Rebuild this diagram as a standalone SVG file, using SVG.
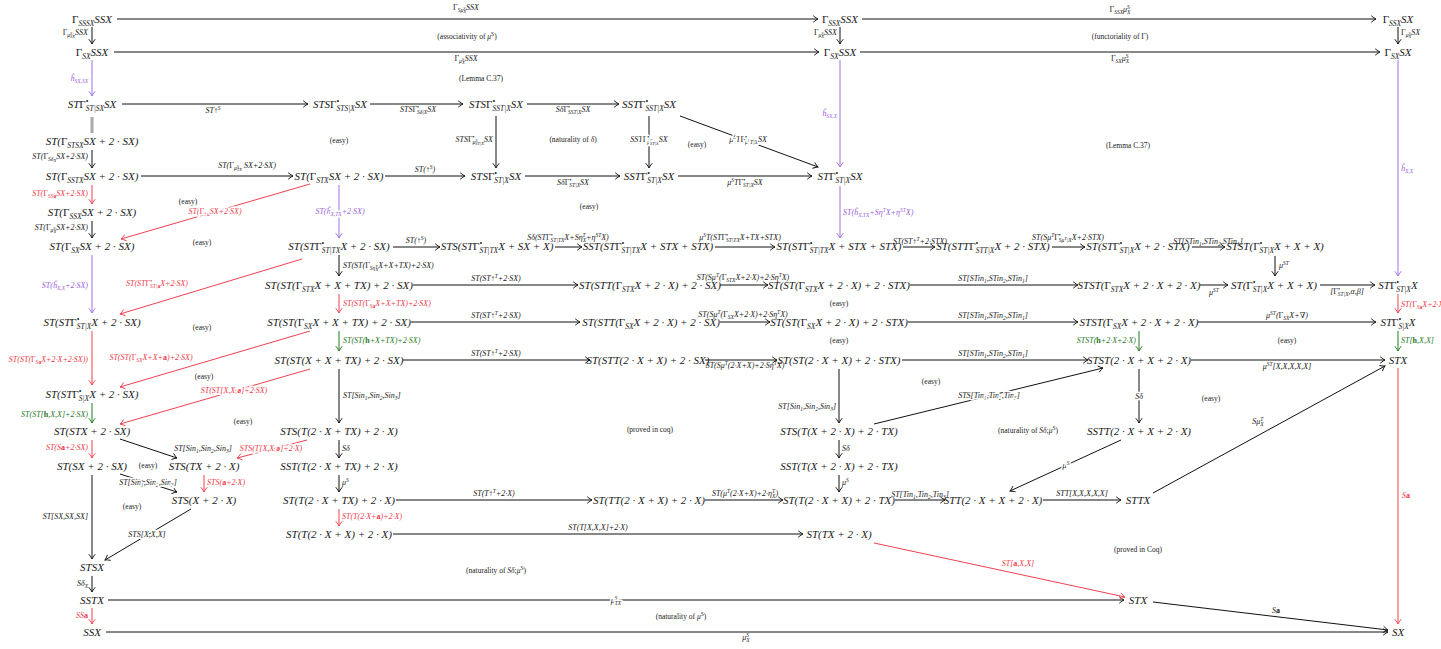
<svg xmlns="http://www.w3.org/2000/svg" width="1441" height="649" viewBox="0 0 1441 649">
<defs>
<style>
text{font-family:"Liberation Serif","DejaVu Serif",serif;font-style:italic;fill:#1a1a1a}
.n{font-size:11px;text-anchor:middle}
.l{font-size:8px}
.m{text-anchor:middle}
.e{text-anchor:end}
.c{font-size:7.5px;font-style:normal;text-anchor:middle}
.i{font-style:italic}
.u{font-style:normal}
.k{font-style:normal;font-weight:bold}
.B{font-size:7.5px;baseline-shift:-2.5px}
.P{font-size:7.5px;baseline-shift:4px}
.b{font-size:5.5px;baseline-shift:-1.8px}
.p{font-size:5.5px;baseline-shift:3px}
.bb{font-size:4.5px;baseline-shift:-1.3px}
.bp{font-size:4.5px;baseline-shift:2px}
.h{stroke:#fff;stroke-width:3px;paint-order:stroke;stroke-linejoin:round}
.rt{fill:#ee3a4a}.pt{fill:#9a62dd}.gt{fill:#1f7a1f}
.a{stroke:#111;stroke-width:1;fill:none}
.ar{stroke:#f0414f}.ap{stroke:#a070e4}.ag{stroke:#1f7a1f}
</style>
<marker id="mk" viewBox="-6 -4 7 8" refX="0" refY="0" markerWidth="7" markerHeight="8" markerUnits="userSpaceOnUse" orient="auto"><path d="M-4.5,-3 Q-1.5,-0.6 0,0 Q-1.5,0.6 -4.5,3" fill="none" stroke="#111" stroke-width="0.9" stroke-linecap="round"/></marker>
<marker id="mr" viewBox="-6 -4 7 8" refX="0" refY="0" markerWidth="7" markerHeight="8" markerUnits="userSpaceOnUse" orient="auto"><path d="M-4.5,-3 Q-1.5,-0.6 0,0 Q-1.5,0.6 -4.5,3" fill="none" stroke="#f0414f" stroke-width="0.9" stroke-linecap="round"/></marker>
<marker id="mp" viewBox="-6 -4 7 8" refX="0" refY="0" markerWidth="7" markerHeight="8" markerUnits="userSpaceOnUse" orient="auto"><path d="M-4.5,-3 Q-1.5,-0.6 0,0 Q-1.5,0.6 -4.5,3" fill="none" stroke="#a070e4" stroke-width="0.9" stroke-linecap="round"/></marker>
<marker id="mg" viewBox="-6 -4 7 8" refX="0" refY="0" markerWidth="7" markerHeight="8" markerUnits="userSpaceOnUse" orient="auto"><path d="M-4.5,-3 Q-1.5,-0.6 0,0 Q-1.5,0.6 -4.5,3" fill="none" stroke="#1f7a1f" stroke-width="0.9" stroke-linecap="round"/></marker>
</defs>
<rect width="1441" height="649" fill="#fff"/>

<g id="connectors">
<line class="a" x1="117" y1="19" x2="818" y2="19" marker-end="url(#mk)"/>
<line class="a" x1="862" y1="19" x2="1376" y2="19" marker-end="url(#mk)"/>
<line class="a" x1="92" y1="27" x2="92" y2="44" marker-end="url(#mk)"/>
<line class="a" x1="840" y1="27" x2="840" y2="44" marker-end="url(#mk)"/>
<line class="a" x1="1398" y1="27" x2="1398" y2="44" marker-end="url(#mk)"/>
<line class="a" x1="114" y1="52" x2="819" y2="52" marker-end="url(#mk)"/>
<line class="a" x1="860" y1="52" x2="1380" y2="52" marker-end="url(#mk)"/>
<line class="a ap" x1="92" y1="60" x2="92" y2="96" marker-end="url(#mp)"/>
<line class="a ap" x1="840" y1="60" x2="840" y2="167" marker-end="url(#mp)"/>
<line class="a ap" x1="1398" y1="60" x2="1398" y2="276" marker-end="url(#mp)"/>
<line class="a" x1="122" y1="104" x2="308" y2="104" marker-end="url(#mk)"/>
<line class="a" x1="370" y1="104" x2="463" y2="104" marker-end="url(#mk)"/>
<line class="a" x1="527" y1="104" x2="619" y2="104" marker-end="url(#mk)"/>
<line class="a" x1="680" y1="116" x2="818" y2="167" marker-end="url(#mk)"/>
<line class="a" x1="496" y1="116" x2="496" y2="168" marker-end="url(#mk)"/>
<line class="a" x1="649" y1="116" x2="649" y2="168" marker-end="url(#mk)"/>
<rect x="90.5" y="117" width="3" height="16" fill="#aaa"/>
<line class="a" x1="92" y1="150" x2="92" y2="168" marker-end="url(#mk)"/>
<line class="a" x1="141" y1="176" x2="293" y2="176" marker-end="url(#mk)"/>
<line class="a" x1="385" y1="176" x2="465" y2="176" marker-end="url(#mk)"/>
<line class="a" x1="525" y1="176" x2="620" y2="176" marker-end="url(#mk)"/>
<line class="a" x1="678" y1="176" x2="812" y2="176" marker-end="url(#mk)"/>
<line class="a ar" x1="92" y1="185" x2="92" y2="204" marker-end="url(#mr)"/>
<line class="a ar" x1="310" y1="184" x2="121" y2="239" marker-end="url(#mr)"/>
<line class="a" x1="92" y1="221" x2="92" y2="238" marker-end="url(#mk)"/>
<line class="a ap" x1="339" y1="185" x2="339" y2="238" marker-end="url(#mp)"/>
<line class="a ap" x1="840" y1="186" x2="840" y2="238" marker-end="url(#mp)"/>
<line class="a ap" x1="92" y1="255" x2="92" y2="313" marker-end="url(#mp)"/>
<line class="a ar" x1="302" y1="259" x2="120" y2="314" marker-end="url(#mr)"/>
<line class="a ar" x1="92" y1="331" x2="92" y2="385" marker-end="url(#mr)"/>
<line class="a ar" x1="310" y1="331" x2="120" y2="387" marker-end="url(#mr)"/>
<line class="a ar" x1="310" y1="369" x2="120" y2="424" marker-end="url(#mr)"/>
<line class="a ag" x1="92" y1="403" x2="92" y2="423" marker-end="url(#mg)"/>
<line class="a" x1="393" y1="247" x2="440" y2="247" marker-end="url(#mk)"/>
<line class="a" x1="555" y1="247" x2="582" y2="247" marker-end="url(#mk)"/>
<line class="a" x1="715" y1="247" x2="775" y2="247" marker-end="url(#mk)"/>
<line class="a" x1="903" y1="247" x2="935" y2="247" marker-end="url(#mk)"/>
<line class="a" x1="1052" y1="247" x2="1085" y2="247" marker-end="url(#mk)"/>
<line class="a" x1="1192" y1="247" x2="1225" y2="247" marker-end="url(#mk)"/>
<line class="a" x1="1275" y1="256" x2="1275" y2="276" marker-end="url(#mk)"/>
<line class="a" x1="413" y1="285" x2="578" y2="285" marker-end="url(#mk)"/>
<line class="a" x1="720" y1="285" x2="768" y2="285" marker-end="url(#mk)"/>
<line class="a" x1="910" y1="285" x2="1078" y2="285" marker-end="url(#mk)"/>
<line class="a" x1="1200" y1="285" x2="1228" y2="285" marker-end="url(#mk)"/>
<line class="a" x1="1320" y1="285" x2="1375" y2="285" marker-end="url(#mk)"/>
<line class="a" x1="339" y1="255" x2="339" y2="276" marker-end="url(#mk)"/>
<line class="a ar" x1="339" y1="294" x2="339" y2="313" marker-end="url(#mr)"/>
<line class="a ag" x1="339" y1="331" x2="339" y2="351" marker-end="url(#mg)"/>
<line class="a" x1="411" y1="322" x2="580" y2="322" marker-end="url(#mk)"/>
<line class="a" x1="720" y1="322" x2="770" y2="322" marker-end="url(#mk)"/>
<line class="a" x1="908" y1="322" x2="1078" y2="322" marker-end="url(#mk)"/>
<line class="a" x1="1198" y1="322" x2="1376" y2="322" marker-end="url(#mk)"/>
<line class="a ar" x1="1398" y1="294" x2="1398" y2="313" marker-end="url(#mr)"/>
<line class="a ag" x1="1139" y1="331" x2="1139" y2="351" marker-end="url(#mg)"/>
<line class="a ag" x1="1398" y1="331" x2="1398" y2="351" marker-end="url(#mg)"/>
<line class="a" x1="403" y1="360" x2="590" y2="360" marker-end="url(#mk)"/>
<line class="a" x1="705" y1="360" x2="777" y2="360" marker-end="url(#mk)"/>
<line class="a" x1="902" y1="360" x2="1088" y2="360" marker-end="url(#mk)"/>
<line class="a" x1="1191" y1="360" x2="1385" y2="360" marker-end="url(#mk)"/>
<line class="a ar" x1="1398" y1="368" x2="1398" y2="624" marker-end="url(#mr)"/>
<line class="a" x1="339" y1="369" x2="339" y2="423" marker-end="url(#mk)"/>
<line class="a" x1="839" y1="369" x2="839" y2="423" marker-end="url(#mk)"/>
<line class="a" x1="874" y1="424" x2="1103" y2="368" marker-end="url(#mk)"/>
<line class="a" x1="1139" y1="369" x2="1139" y2="423" marker-end="url(#mk)"/>
<line class="a ar" x1="92" y1="440" x2="92" y2="458" marker-end="url(#mr)"/>
<line class="a" x1="120" y1="439" x2="177" y2="458" marker-end="url(#mk)"/>
<line class="a ar" x1="307" y1="440" x2="237" y2="458" marker-end="url(#mr)"/>
<line class="a ar" x1="204" y1="475" x2="204" y2="492" marker-end="url(#mr)"/>
<line class="a" x1="120" y1="474" x2="177" y2="492" marker-end="url(#mk)"/>
<line class="a" x1="92" y1="475" x2="92" y2="559" marker-end="url(#mk)"/>
<line class="a" x1="191" y1="509" x2="105" y2="560" marker-end="url(#mk)"/>
<line class="a" x1="92" y1="576" x2="92" y2="592" marker-end="url(#mk)"/>
<line class="a ar" x1="92" y1="608" x2="92" y2="624" marker-end="url(#mr)"/>
<line class="a" x1="108" y1="600" x2="1124" y2="600" marker-end="url(#mk)"/>
<line class="a" x1="106" y1="632" x2="1388" y2="632" marker-end="url(#mk)"/>
<line class="a" x1="1153" y1="602" x2="1388" y2="630" marker-end="url(#mk)"/>
<line class="a ar" x1="874" y1="543" x2="1125" y2="597" marker-end="url(#mr)"/>
<line class="a" x1="339" y1="440" x2="339" y2="458" marker-end="url(#mk)"/>
<line class="a" x1="339" y1="475" x2="339" y2="492" marker-end="url(#mk)"/>
<line class="a ar" x1="339" y1="509" x2="339" y2="526" marker-end="url(#mr)"/>
<line class="a" x1="396" y1="500" x2="592" y2="500" marker-end="url(#mk)"/>
<line class="a" x1="705" y1="500" x2="783" y2="500" marker-end="url(#mk)"/>
<line class="a" x1="895" y1="500" x2="945" y2="500" marker-end="url(#mk)"/>
<line class="a" x1="1043" y1="500" x2="1121" y2="500" marker-end="url(#mk)"/>
<line class="a" x1="1153" y1="493" x2="1385" y2="366" marker-end="url(#mk)"/>
<line class="a" x1="1121" y1="440" x2="1010" y2="491" marker-end="url(#mk)"/>
<line class="a" x1="839" y1="440" x2="839" y2="458" marker-end="url(#mk)"/>
<line class="a" x1="839" y1="475" x2="839" y2="492" marker-end="url(#mk)"/>
<line class="a" x1="393" y1="534" x2="803" y2="534" marker-end="url(#mk)"/>
</g>

<g id="edge-labels">
<text class="l m" x="466" y="10"><tspan class="u">Γ</tspan><tspan class="b">Sμ<tspan class="bp">S</tspan><tspan class="bb" dx="-2.2">X</tspan></tspan>SSX</text>
<text class="l m" x="1120" y="12"><tspan class="u">Γ</tspan><tspan class="b">SSX</tspan>μ<tspan class="p">S</tspan><tspan class="b" dx="-2.8">X</tspan></text>
<text class="l e" x="88" y="35"><tspan class="u">Γ</tspan><tspan class="b">μ<tspan class="bp">S</tspan><tspan class="bb" dx="-2.2">SX</tspan></tspan>SSX</text>
<text class="l e" x="837" y="35"><tspan class="u">Γ</tspan><tspan class="b">μ<tspan class="bp">S</tspan><tspan class="bb" dx="-2.2">X</tspan></tspan>SSX</text>
<text class="l" x="1401" y="35"><tspan class="u">Γ</tspan><tspan class="b">μ<tspan class="bp">S</tspan><tspan class="bb" dx="-2.2">X</tspan></tspan>SX</text>
<text class="l m" x="466" y="61"><tspan class="u">Γ</tspan><tspan class="b">μ<tspan class="bp">S</tspan><tspan class="bb" dx="-2.2">X</tspan></tspan>SSX</text>
<text class="l m" x="1120" y="61"><tspan class="u">Γ</tspan><tspan class="b">SX</tspan>μ<tspan class="p">S</tspan><tspan class="b" dx="-2.8">X</tspan></text>
<text class="l e pt" x="88" y="81">ĥ<tspan class="b">SX,SX</tspan></text>
<text class="l e pt" x="837" y="116">ĥ<tspan class="b">SX,X</tspan></text>
<text class="l pt" x="1401" y="171">ĥ<tspan class="b">X,X</tspan></text>
<text class="l m" x="213" y="113">ST↑<tspan class="p">S</tspan></text>
<text class="l m" x="418" y="112">STS<tspan class="u">Γ</tspan><tspan class="p">•</tspan><tspan class="b" dx="-2">Sδ|X</tspan>SX</text>
<text class="l m" x="573" y="112">Sδ<tspan class="u">Γ</tspan><tspan class="p">•</tspan><tspan class="b" dx="-2">SST|X</tspan>SX</text>
<text class="l m h" x="748" y="142">μ<tspan class="p">S</tspan>T<tspan class="u">Γ</tspan><tspan class="p">•</tspan><tspan class="b" dx="-2">μ<tspan class="bp">S</tspan>T|X</tspan>SX</text>
<text class="l e" x="493" y="142">STS<tspan class="u">Γ</tspan><tspan class="p">•</tspan><tspan class="b" dx="-2">μ<tspan class="bp">S</tspan><tspan class="bb" dx="-2.2">ST|X</tspan></tspan>SX</text>
<text class="l m h" x="649" y="142">SST<tspan class="u">Γ</tspan><tspan class="p">•</tspan><tspan class="b" dx="-2">μ<tspan class="bp">S</tspan><tspan class="bb" dx="-2.2">ST|X</tspan></tspan>SX</text>
<text class="l e" x="88" y="159">ST(<tspan class="u">Γ</tspan><tspan class="b">Sδ<tspan class="bb">X</tspan></tspan>SX+2·SX)</text>
<text class="l m" x="247" y="168">ST(<tspan class="u">Γ</tspan><tspan class="b">μ<tspan class="bp">S</tspan><tspan class="bb" dx="-2.2">TX</tspan></tspan> SX+2·SX)</text>
<text class="l m" x="425" y="172">ST(↑<tspan class="p">S</tspan>)</text>
<text class="l m" x="573" y="185">Sδ<tspan class="u">Γ</tspan><tspan class="p">•</tspan><tspan class="b" dx="-2">ST|X</tspan>SX</text>
<text class="l m" x="745" y="185">μ<tspan class="p">S</tspan>T<tspan class="u">Γ</tspan><tspan class="p">•</tspan><tspan class="b" dx="-2">ST|X</tspan>SX</text>
<text class="l e rt" x="88" y="196">ST(<tspan class="u">Γ</tspan><tspan class="b">SS<tspan class="k">a</tspan></tspan>SX+2·SX)</text>
<text class="l m rt h" x="215" y="214">ST(<tspan class="u">Γ</tspan><tspan class="b">S<tspan class="k">a</tspan></tspan>SX+2·SX)</text>
<text class="l e" x="88" y="230">ST(<tspan class="u">Γ</tspan><tspan class="b">μ<tspan class="bp">S</tspan><tspan class="bb" dx="-2.2">X</tspan></tspan>SX+2·SX)</text>
<text class="l m pt h" x="340" y="214">ST(ĥ<tspan class="b">X,TX</tspan>+2·SX)</text>
<text class="l pt" x="843" y="215">ST(ĥ<tspan class="b">X,TX</tspan>+Sη<tspan class="p">T</tspan>X+η<tspan class="p">ST</tspan>X)</text>
<text class="l e pt" x="88" y="288">ST(ĥ<tspan class="b">X,X</tspan>+2·SX)</text>
<text class="l m rt" x="157" y="286">ST(ST<tspan class="u">Γ</tspan><tspan class="p">•</tspan><tspan class="b" dx="-2">ST|<tspan class="k">a</tspan></tspan>X+2·SX)</text>
<text class="l e rt" x="88" y="362">ST(ST(<tspan class="u">Γ</tspan><tspan class="b">S<tspan class="k">a</tspan></tspan>X+2·X+2·SX))</text>
<text class="l m rt" x="151" y="360">ST(ST(<tspan class="u">Γ</tspan><tspan class="b">SX</tspan>X+X+<tspan class="k">a</tspan>)+2·SX)</text>
<text class="l m rt h" x="234" y="393">ST(ST[X,X,<tspan class="k">a</tspan>]+2·SX)</text>
<text class="l e gt" x="88" y="417">ST(ST[<tspan class="k">h</tspan>,X,X]+2·SX)</text>
<text class="l m" x="416" y="243">ST(↑<tspan class="p">S</tspan>)</text>
<text class="l m" x="568" y="240">Sδ(ST<tspan class="u">Γ</tspan><tspan class="p">•</tspan><tspan class="b" dx="-2">ST|TX</tspan>X+Sη<tspan class="p">T</tspan><tspan class="b" dx="-3">X</tspan>+η<tspan class="p">ST</tspan>X)</text>
<text class="l m" x="740" y="240">μ<tspan class="p">S</tspan>T(ST<tspan class="u">Γ</tspan><tspan class="p">•</tspan><tspan class="b" dx="-2">ST|TX</tspan>X+TX+STX)</text>
<text class="l m" x="920" y="244">ST(ST↑<tspan class="p">T</tspan>+2·STX)</text>
<text class="l m" x="1068" y="240">ST(Sμ<tspan class="p">T</tspan><tspan class="u">Γ</tspan><tspan class="p">•</tspan><tspan class="b" dx="-2">Sμ<tspan class="bp">T</tspan>|X</tspan>X+2·STX)</text>
<text class="l m" x="1208" y="244">ST[STin<tspan class="b">1</tspan>,STin<tspan class="b">2</tspan>,STin<tspan class="b">1</tspan>]</text>
<text class="l" x="1279" y="268">μ<tspan class="p">ST</tspan></text>
<text class="l m" x="496" y="281">ST(ST↑<tspan class="p">T</tspan>+2·SX)</text>
<text class="l m" x="743" y="280">ST(Sμ<tspan class="p">T</tspan>(<tspan class="u">Γ</tspan><tspan class="b">STX</tspan>X+2·X)+2·Sη<tspan class="p">T</tspan>X)</text>
<text class="l m" x="993" y="281">ST[STin<tspan class="b">1</tspan>,STin<tspan class="b">2</tspan>,STin<tspan class="b">1</tspan>]</text>
<text class="l m" x="1214" y="295">μ<tspan class="p">ST</tspan></text>
<text class="l m" x="1347" y="294">[<tspan class="u">Γ</tspan><tspan class="p">•</tspan><tspan class="b" dx="-2">ST|X</tspan>,α,β]</text>
<text class="l" x="343" y="268">ST(ST(<tspan class="u">Γ</tspan><tspan class="b">Sη<tspan class="bp">T</tspan><tspan class="bb" dx="-2.4">X</tspan></tspan>X+X+TX)+2·SX)</text>
<text class="l rt" x="343" y="306">ST(ST(<tspan class="u">Γ</tspan><tspan class="b">S<tspan class="k">a</tspan></tspan>X+X+TX)+2·SX)</text>
<text class="l gt" x="343" y="343">ST(ST(<tspan class="k">h</tspan>+X+TX)+2·SX)</text>
<text class="l m" x="496" y="318">ST(ST↑<tspan class="p">T</tspan>+2·SX)</text>
<text class="l m" x="743" y="317">ST(Sμ<tspan class="p">T</tspan>(<tspan class="u">Γ</tspan><tspan class="b">SX</tspan>X+2·X)+2·Sη<tspan class="p">T</tspan>X)</text>
<text class="l m" x="993" y="318">ST[STin<tspan class="b">1</tspan>,STin<tspan class="b">2</tspan>,STin<tspan class="b">1</tspan>]</text>
<text class="l m" x="1287" y="318">μ<tspan class="p">ST</tspan>(<tspan class="u">Γ</tspan><tspan class="b">SX</tspan>X+∇)</text>
<text class="l rt" x="1401" y="307">ST(<tspan class="u">Γ</tspan><tspan class="b">S<tspan class="k">a</tspan></tspan>X+2·X)</text>
<text class="l e gt" x="1136" y="343">STST(<tspan class="k">h</tspan>+2·X+2·X)</text>
<text class="l gt" x="1401" y="343">ST[<tspan class="k">h</tspan>,X,X]</text>
<text class="l m" x="496" y="356">ST(ST↑<tspan class="p">T</tspan>+2·SX)</text>
<text class="l m" x="745" y="368">ST(Sμ<tspan class="p">T</tspan>(2·X+X)+2·Sη<tspan class="p">T</tspan>X)</text>
<text class="l m" x="993" y="356">ST[STin<tspan class="b">1</tspan>,STin<tspan class="b">2</tspan>,STin<tspan class="b">1</tspan>]</text>
<text class="l m" x="1287" y="369">μ<tspan class="p">ST</tspan>[X,X,X,X,X]</text>
<text class="l rt" x="1402" y="498">S<tspan class="k">a</tspan></text>
<text class="l" x="343" y="398">ST[Sin<tspan class="b">1</tspan>,Sin<tspan class="b">2</tspan>,Sin<tspan class="b">3</tspan>]</text>
<text class="l e" x="836" y="409">ST[Sin<tspan class="b">1</tspan>,Sin<tspan class="b">2</tspan>,Sin<tspan class="b">3</tspan>]</text>
<text class="l m h" x="989" y="398">STS[Tin<tspan class="b">1</tspan>,Tin<tspan class="b">2</tspan>,Tin<tspan class="b">3</tspan>]</text>
<text class="l m h" x="1139" y="399">Sδ</text>
<text class="l e rt" x="88" y="450">ST(S<tspan class="k">a</tspan>+2·SX)</text>
<text class="l m" x="203" y="451">ST[Sin<tspan class="b">1</tspan>,Sin<tspan class="b">2</tspan>,Sin<tspan class="b">3</tspan>]</text>
<text class="l m rt h" x="271" y="451">STS(T[X,X,<tspan class="k">a</tspan>]+2·X)</text>
<text class="l rt" x="207" y="485">STS(<tspan class="k">a</tspan>+2·X)</text>
<text class="l m h" x="148" y="485">ST[Sin<tspan class="b">1</tspan>,Sin<tspan class="b">2</tspan>,Sin<tspan class="b">3</tspan>]</text>
<text class="l e" x="88" y="519">ST[SX,SX,SX]</text>
<text class="l m h" x="147" y="537">STS[X,X,X]</text>
<text class="l e" x="88" y="586">Sδ<tspan class="b">X</tspan></text>
<text class="l e rt" x="88" y="618">SS<tspan class="k">a</tspan></text>
<text class="l m h" x="616" y="603">μ<tspan class="p">S</tspan><tspan class="b" dx="-2.8">TX</tspan></text>
<text class="l m" x="746" y="640">μ<tspan class="p">S</tspan><tspan class="b" dx="-2.8">X</tspan></text>
<text class="l m" x="1276" y="613">S<tspan class="k">a</tspan></text>
<text class="l m rt" x="1018" y="566">ST[<tspan class="k">a</tspan>,X,X]</text>
<text class="l" x="342" y="451">Sδ</text>
<text class="l" x="342" y="485">μ<tspan class="p">S</tspan></text>
<text class="l rt" x="342" y="519">ST(T(2·X+<tspan class="k">a</tspan>)+2·X)</text>
<text class="l m" x="494" y="496">ST(T↑<tspan class="p">T</tspan>+2·X)</text>
<text class="l m" x="745" y="496">ST(μ<tspan class="p">T</tspan>(2·X+X)+2·η<tspan class="p">T</tspan><tspan class="b" dx="-3">X</tspan>)</text>
<text class="l m" x="920" y="497">ST[Tin<tspan class="b">1</tspan>,Tin<tspan class="b">2</tspan>,Tin<tspan class="b">3</tspan>]</text>
<text class="l m" x="1082" y="496">STT[X,X,X,X,X]</text>
<text class="l m" x="1258" y="424">Sμ<tspan class="p">T</tspan><tspan class="b" dx="-3">X</tspan></text>
<text class="l m h" x="1066" y="468">μ<tspan class="p">S</tspan></text>
<text class="l" x="842" y="451">Sδ</text>
<text class="l" x="842" y="485">μ<tspan class="p">S</tspan></text>
<text class="l m" x="598" y="530">ST(T[X,X,X]+2·X)</text>
</g>

<g id="cell-notes">
<text class="c" x="467" y="39">(associativity of <tspan class="i">μ</tspan><tspan class="p">S</tspan>)</text>
<text class="c" x="1120" y="39">(functoriality of Γ)</text>
<text class="c" x="481" y="81">(Lemma C.37)</text>
<text class="c" x="1128" y="148">(Lemma C.37)</text>
<text class="c" x="573" y="142">(naturality of <tspan class="i">δ</tspan>)</text>
<text class="c" x="697" y="147">(easy)</text>
<text class="c" x="339" y="143">(easy)</text>
<text class="c" x="589" y="209">(easy)</text>
<text class="c" x="188" y="204">(easy)</text>
<text class="c" x="202" y="245">(easy)</text>
<text class="c" x="202" y="330">(easy)</text>
<text class="c" x="204" y="379">(easy)</text>
<text class="c" x="243" y="424">(easy)</text>
<text class="c" x="839" y="306">(easy)</text>
<text class="c" x="839" y="343">(easy)</text>
<text class="c" x="1287" y="343">(easy)</text>
<text class="c" x="931" y="384">(easy)</text>
<text class="c" x="1211" y="401">(easy)</text>
<text class="c" x="1028" y="433">(naturality of <tspan class="i">Sδ</tspan>;<tspan class="i">μ</tspan><tspan class="p">S</tspan>)</text>
<text class="c" x="650" y="432">(proved in coq)</text>
<text class="c" x="148" y="468">(easy)</text>
<text class="c" x="132" y="509">(easy)</text>
<text class="c" x="496" y="573">(naturality of <tspan class="i">Sδ</tspan>;<tspan class="i">μ</tspan><tspan class="p">S</tspan>)</text>
<text class="c" x="1138" y="552">(proved in Coq)</text>
<text class="c" x="681" y="619">(naturality of <tspan class="i">μ</tspan><tspan class="p">S</tspan>)</text>
</g>

<g id="n1"><text class="n" x="92" y="23"><tspan class="u">Γ</tspan><tspan class="B">SSSX</tspan>SSX</text></g>
<g id="n2"><text class="n" x="840" y="23"><tspan class="u">Γ</tspan><tspan class="B">SSX</tspan>SSX</text></g>
<g id="n3"><text class="n" x="1398" y="23"><tspan class="u">Γ</tspan><tspan class="B">SSX</tspan>SX</text></g>
<g id="n4"><text class="n" x="92" y="56"><tspan class="u">Γ</tspan><tspan class="B">SX</tspan>SSX</text></g>
<g id="n5"><text class="n" x="840" y="56"><tspan class="u">Γ</tspan><tspan class="B">SX</tspan>SSX</text></g>
<g id="n6"><text class="n" x="1398" y="56"><tspan class="u">Γ</tspan><tspan class="B">SX</tspan>SX</text></g>
<g id="n7"><text class="n" x="92" y="108">ST<tspan class="u">Γ</tspan><tspan class="P">•</tspan><tspan class="B" dx="-2.6">ST|SX</tspan>SX</text></g>
<g id="n8"><text class="n" x="340" y="108">STS<tspan class="u">Γ</tspan><tspan class="P">•</tspan><tspan class="B" dx="-2.6">STS|X</tspan>SX</text></g>
<g id="n9"><text class="n" x="496" y="108">STS<tspan class="u">Γ</tspan><tspan class="P">•</tspan><tspan class="B" dx="-2.6">SST|X</tspan>SX</text></g>
<g id="n10"><text class="n" x="649" y="108">SST<tspan class="u">Γ</tspan><tspan class="P">•</tspan><tspan class="B" dx="-2.6">SST|X</tspan>SX</text></g>
<g id="n11"><text class="n" x="92" y="145">ST(<tspan class="u">Γ</tspan><tspan class="B">STSX</tspan>SX + 2 · SX)</text></g>
<g id="n12"><text class="n" x="92" y="180">ST(<tspan class="u">Γ</tspan><tspan class="B">SSTX</tspan>SX + 2 · SX)</text></g>
<g id="n13"><text class="n" x="339" y="180">ST(<tspan class="u">Γ</tspan><tspan class="B">STX</tspan>SX + 2 · SX)</text></g>
<g id="n14"><text class="n" x="496" y="180">STS<tspan class="u">Γ</tspan><tspan class="P">•</tspan><tspan class="B" dx="-2.6">ST|X</tspan>SX</text></g>
<g id="n15"><text class="n" x="649" y="180">SST<tspan class="u">Γ</tspan><tspan class="P">•</tspan><tspan class="B" dx="-2.6">ST|X</tspan>SX</text></g>
<g id="n16"><text class="n" x="840" y="180">ST<tspan class="u">Γ</tspan><tspan class="P">•</tspan><tspan class="B" dx="-2.6">ST|X</tspan>SX</text></g>
<g id="n17"><text class="n" x="92" y="216">ST(<tspan class="u">Γ</tspan><tspan class="B">SSX</tspan>SX + 2 · SX)</text></g>
<g id="n18"><text class="n" x="92" y="250">ST(<tspan class="u">Γ</tspan><tspan class="B">SX</tspan>SX + 2 · SX)</text></g>
<g id="n19"><text class="n" x="339" y="250">ST(ST<tspan class="u">Γ</tspan><tspan class="P">•</tspan><tspan class="B" dx="-2.6">ST|TX</tspan>X + 2 · SX)</text></g>
<g id="n20"><text class="n" x="497" y="250">STS(ST<tspan class="u">Γ</tspan><tspan class="P">•</tspan><tspan class="B" dx="-2.6">ST|TX</tspan>X + SX + X)</text></g>
<g id="n21"><text class="n" x="648" y="250">SST(ST<tspan class="u">Γ</tspan><tspan class="P">•</tspan><tspan class="B" dx="-2.6">ST|TX</tspan>X + STX + STX)</text></g>
<g id="n22"><text class="n" x="839" y="250">ST(ST<tspan class="u">Γ</tspan><tspan class="P">•</tspan><tspan class="B" dx="-2.6">ST|TX</tspan>X + STX + STX)</text></g>
<g id="n23"><text class="n" x="993" y="250">ST(STT<tspan class="u">Γ</tspan><tspan class="P">•</tspan><tspan class="B" dx="-2.6">STT|X</tspan>X + 2 · STX)</text></g>
<g id="n24"><text class="n" x="1138" y="250">ST(ST<tspan class="u">Γ</tspan><tspan class="P">•</tspan><tspan class="B" dx="-2.6">ST|X</tspan>X + 2 · STX)</text></g>
<g id="n25"><text class="n" x="1275" y="250">STST(<tspan class="u">Γ</tspan><tspan class="P">•</tspan><tspan class="B" dx="-2.6">ST|X</tspan>X + X + X)</text></g>
<g id="n26"><text class="n" x="339" y="289">ST(ST(<tspan class="u">Γ</tspan><tspan class="B">STX</tspan>X + X + TX) + 2 · SX)</text></g>
<g id="n27"><text class="n" x="650" y="289">ST(STT(<tspan class="u">Γ</tspan><tspan class="B">STX</tspan>X + 2 · X) + 2 · SX)</text></g>
<g id="n28"><text class="n" x="839" y="289">ST(ST(<tspan class="u">Γ</tspan><tspan class="B">STX</tspan>X + 2 · X) + 2 · STX)</text></g>
<g id="n29"><text class="n" x="1139" y="289">STST(<tspan class="u">Γ</tspan><tspan class="B">STX</tspan>X + 2 · X + 2 · X)</text></g>
<g id="n30"><text class="n" x="1274" y="289">ST(<tspan class="u">Γ</tspan><tspan class="P">•</tspan><tspan class="B" dx="-2.6">ST|X</tspan>X + X + X)</text></g>
<g id="n31"><text class="n" x="1398" y="289">ST<tspan class="u">Γ</tspan><tspan class="P">•</tspan><tspan class="B" dx="-2.6">ST|X</tspan>X</text></g>
<g id="n32"><text class="n" x="92" y="326">ST(ST<tspan class="u">Γ</tspan><tspan class="P">•</tspan><tspan class="B" dx="-2.6">ST|X</tspan>X + 2 · SX)</text></g>
<g id="n33"><text class="n" x="339" y="326">ST(ST(<tspan class="u">Γ</tspan><tspan class="B">SX</tspan>X + X + TX) + 2 · SX)</text></g>
<g id="n34"><text class="n" x="651" y="326">ST(STT(<tspan class="u">Γ</tspan><tspan class="B">SX</tspan>X + 2 · X) + 2 · SX)</text></g>
<g id="n35"><text class="n" x="839" y="326">ST(ST(<tspan class="u">Γ</tspan><tspan class="B">SX</tspan>X + 2 · X) + 2 · STX)</text></g>
<g id="n36"><text class="n" x="1139" y="326">STST(<tspan class="u">Γ</tspan><tspan class="B">SX</tspan>X + 2 · X + 2 · X)</text></g>
<g id="n37"><text class="n" x="1398" y="326">ST<tspan class="u">Γ</tspan><tspan class="P">•</tspan><tspan class="B" dx="-2.6">S|X</tspan>X</text></g>
<g id="n38"><text class="n" x="339" y="364">ST(ST(X + X + TX) + 2 · SX)</text></g>
<g id="n39"><text class="n" x="648" y="364">ST(STT(2 · X + X) + 2 · SX)</text></g>
<g id="n40"><text class="n" x="839" y="364">ST(ST(2 · X + X) + 2 · STX)</text></g>
<g id="n41"><text class="n" x="1139" y="364">STST(2 · X + X + 2 · X)</text></g>
<g id="n42"><text class="n" x="1398" y="364">STX</text></g>
<g id="n43"><text class="n" x="92" y="398">ST(ST<tspan class="u">Γ</tspan><tspan class="P">•</tspan><tspan class="B" dx="-2.6">S|X</tspan>X + 2 · SX)</text></g>
<g id="n44"><text class="n" x="92" y="435">ST(STX + 2 · SX)</text></g>
<g id="n45"><text class="n" x="339" y="435">STS(T(2 · X + TX) + 2 · X)</text></g>
<g id="n46"><text class="n" x="839" y="435">STS(T(X + 2 · X) + 2 · TX)</text></g>
<g id="n47"><text class="n" x="1139" y="435">SSTT(2 · X + X + 2 · X)</text></g>
<g id="n48"><text class="n" x="92" y="470">ST(SX + 2 · SX)</text></g>
<g id="n49"><text class="n" x="204" y="470">STS(TX + 2 · X)</text></g>
<g id="n50"><text class="n" x="339" y="470">SST(T(2 · X + TX) + 2 · X)</text></g>
<g id="n51"><text class="n" x="839" y="470">SST(T(X + 2 · X) + 2 · TX)</text></g>
<g id="n52"><text class="n" x="204" y="504">STS(X + 2 · X)</text></g>
<g id="n53"><text class="n" x="339" y="504">ST(T(2 · X + TX) + 2 · X)</text></g>
<g id="n54"><text class="n" x="649" y="504">ST(TT(2 · X + X) + 2 · X)</text></g>
<g id="n55"><text class="n" x="839" y="504">ST(T(2 · X + X) + 2 · TX)</text></g>
<g id="n56"><text class="n" x="993" y="504">STT(2 · X + X + 2 · X)</text></g>
<g id="n57"><text class="n" x="1138" y="504">STTX</text></g>
<g id="n58"><text class="n" x="339" y="538">ST(T(2 · X + X) + 2 · X)</text></g>
<g id="n59"><text class="n" x="839" y="538">ST(TX + 2 · X)</text></g>
<g id="n60"><text class="n" x="92" y="571">STSX</text></g>
<g id="n61"><text class="n" x="92" y="604">SSTX</text></g>
<g id="n62"><text class="n" x="1138" y="604">STX</text></g>
<g id="n63"><text class="n" x="92" y="636">SSX</text></g>
<g id="n64"><text class="n" x="1398" y="636">SX</text></g>
</svg>
